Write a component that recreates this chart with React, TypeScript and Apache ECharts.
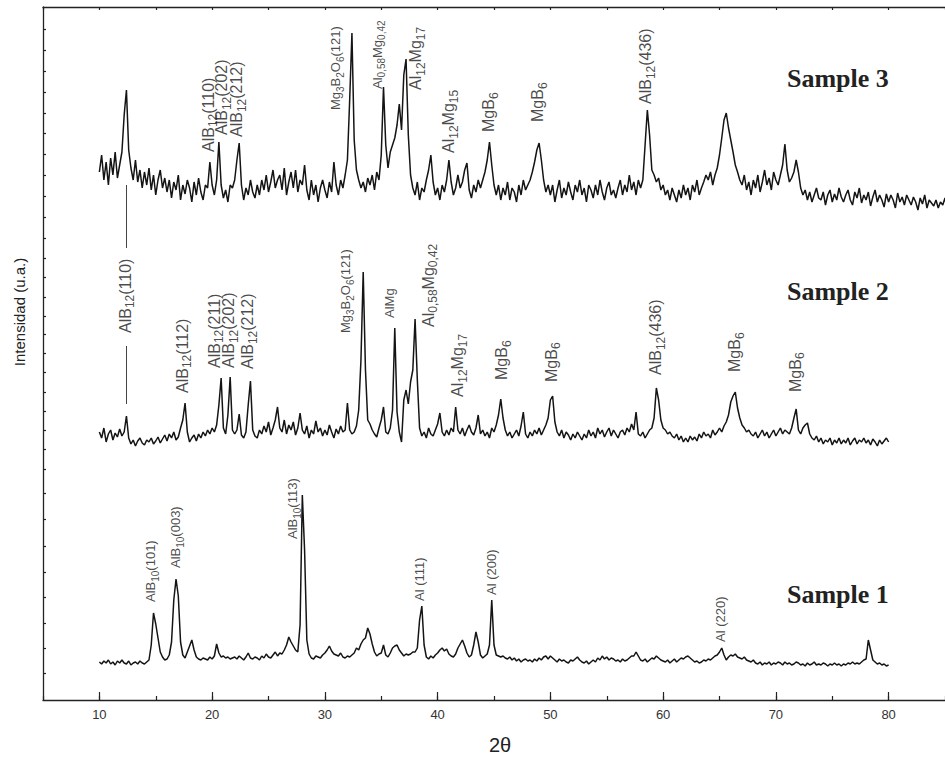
import React, { useEffect, useRef } from "react";
import * as echarts from "echarts";

// 2θ grid of the patterns: first angle and step (degrees)
const X_START = 10;
const X_STEP = 0.2;

// Sample 1 intensities (arbitrary units), 10° → 80°
const sample1: number[] = [
  38, 36, 39, 37, 40, 36, 38, 35, 39, 37,
  40, 37, 36, 39, 35, 37, 38, 36, 39, 37,
  36, 38, 40, 55, 87, 76, 62, 48, 43, 40,
  41, 45, 58, 100, 121, 104, 58, 45, 42, 48,
  54, 60, 50, 43, 41, 40, 42, 41, 40, 43,
  41, 44, 56, 47, 43, 44, 42, 43, 41, 42,
  43, 41, 44, 42, 40, 43, 47, 42, 41, 43,
  42, 40, 44, 42, 46, 43, 42, 45, 48, 44,
  47, 46, 50, 55, 63, 58, 54, 50, 48, 75,
  205, 150, 60, 46, 42, 41, 44, 43, 42, 45,
  47, 50, 54, 49, 46, 45, 44, 47, 43, 42,
  44, 43, 45, 47, 52, 50, 56, 60, 62, 72,
  66, 56, 48, 44, 46, 47, 55, 45, 43, 47,
  52, 54, 55, 50, 47, 44, 46, 45, 46, 48,
  48, 52, 80, 94, 55, 43, 41, 44, 42, 45,
  47, 50, 52, 49, 51, 46, 44, 43, 46, 52,
  56, 60, 54, 47, 43, 45, 55, 68, 58, 45,
  42, 44, 46, 55, 100, 55, 45, 44, 43, 44,
  42, 41, 43, 40, 42, 39, 41, 38, 40, 41,
  39, 40, 38, 41, 39, 42, 40, 43, 44, 41,
  44, 42, 40, 38, 41, 39, 40, 38, 37, 40,
  39, 41, 43, 40, 38, 37, 39, 36, 38, 40,
  38, 42, 40, 44, 41, 43, 40, 42, 41, 39,
  40, 38, 41, 39, 40, 42, 44, 44, 48, 44,
  40, 39, 41, 38, 40, 42, 41, 44, 42, 40,
  39, 38, 40, 37, 39, 41, 38, 40, 42, 41,
  43, 44, 42, 40, 38, 39, 37, 38, 40, 39,
  41, 40, 42, 44, 45, 48, 52, 45, 40, 43,
  45, 44, 46, 43, 42, 41, 43, 40, 39, 38,
  40, 37, 36, 38, 35, 37, 36, 38, 35, 37,
  36, 38, 37, 35, 38, 36, 37, 35, 36, 38,
  37, 35, 36, 34, 37, 35, 36, 38, 35, 36,
  35, 37, 36, 34, 36, 35, 37, 35, 36, 34,
  36, 35, 37, 36, 38, 36, 37, 36, 38, 40,
  41, 60, 50, 40, 38, 36, 37, 35, 36, 34,
  35,
];

// Sample 2 intensities (offset upward), 10° → 80°
const sample2: number[] = [
  268, 262, 272, 258, 266, 270, 260, 267, 263, 271,
  264, 268, 284, 262, 256, 260, 254, 259, 262, 257,
  255, 260, 258, 262, 256, 259, 263, 257, 261, 265,
  259, 266, 262, 268, 260, 263, 272, 280, 297, 268,
  258, 262, 265, 259, 266, 262, 268, 264, 270, 266,
  272, 268, 275, 295, 322, 272, 266, 285, 323, 270,
  266, 270, 286, 265, 262, 268, 295, 319, 270, 264,
  262, 270, 266, 274, 268, 278, 265, 272, 280, 293,
  272, 268, 280, 266, 275, 270, 278, 265, 272, 287,
  270, 266, 274, 262, 270, 266, 279, 268, 272, 264,
  270, 265, 275, 268, 262, 271, 266, 274, 268, 270,
  297, 270, 266, 268, 274, 290, 340, 428, 330, 280,
  276, 270, 266, 263, 272, 280, 293, 268, 266, 272,
  290, 372, 288, 268, 258, 300, 310, 296, 318, 330,
  381, 320, 272, 264, 268, 262, 272, 266, 264, 270,
  276, 287, 268, 264, 270, 265, 272, 268, 293, 270,
  266, 272, 264, 270, 275, 268, 265, 272, 285, 266,
  270, 264, 268, 262, 272, 268, 275, 285, 301, 282,
  270, 264, 268, 262, 266, 270, 264, 274, 288, 266,
  262, 268, 264, 270, 266, 272, 265, 270, 275, 282,
  300, 304, 278, 268, 264, 270, 262, 268, 265, 260,
  266, 262, 268, 264, 260, 266, 262, 270, 264, 268,
  262, 272, 266, 270, 263, 268, 272, 264, 270, 266,
  262, 268, 270, 265, 272, 268, 276, 270, 288, 266,
  264, 268, 262, 266, 270, 272, 282, 312, 300, 280,
  272, 270, 266, 268, 264, 262, 266, 260, 264, 258,
  262, 258, 264, 260, 263, 259, 266, 262, 268, 264,
  266, 262, 270, 265, 268, 272, 268, 274, 278, 285,
  298, 304, 308, 292, 282, 275, 272, 268, 270, 266,
  264, 268, 262, 266, 270, 264, 268, 262, 266, 270,
  264, 268, 272, 266, 270, 268, 266, 272, 282, 291,
  270, 266, 272, 275, 277, 266, 262, 260, 264, 258,
  262, 256, 260, 258, 262, 255, 260, 257, 262, 256,
  260, 257, 262, 255, 259, 262, 256, 260, 258, 262,
  257, 260, 255, 261, 258, 254, 260, 256, 259, 262,
  258,
];

// Sample 3 intensities (offset upward), 10° → 86°
const sample3: number[] = [
  528, 545, 520, 538, 515, 542, 525, 548, 522, 535,
  548, 585, 610, 550, 532, 520, 540, 518, 530, 512,
  528, 515, 532, 510, 525, 505, 520, 530, 512, 522,
  508, 520, 502, 518, 510, 525, 500, 515, 506, 520,
  512, 498, 518, 505, 522, 508, 500, 515, 512, 538,
  515, 505, 520, 558, 515, 502, 510, 498, 515, 512,
  520, 540, 557, 515, 500, 512, 505, 520, 508, 502,
  515, 505, 520, 510, 525, 508, 518, 530, 512, 520,
  525, 510, 532, 505, 518, 528, 512, 530, 508, 520,
  515, 535, 510, 500, 520, 505, 515, 498, 512, 520,
  510, 502, 518, 508, 538, 515, 505, 520, 512, 525,
  540, 600, 667, 560, 530, 520, 512, 518, 508, 522,
  515, 525, 510, 528, 520, 545, 613, 555, 532, 548,
  555, 562, 575, 596, 570, 625, 641, 565, 525, 512,
  505, 518, 500, 512, 508, 520, 530, 545, 518, 505,
  512, 500, 515, 508, 520, 540, 518, 505, 512, 525,
  512, 518, 530, 537, 510, 502, 515, 508, 520, 512,
  520, 528, 540, 558, 535, 515, 505, 515, 500, 512,
  505, 518, 500, 512, 508, 498, 515, 505, 520, 510,
  515, 520, 528, 538, 550, 557, 540, 520, 508, 515,
  505, 515, 498, 510, 520, 502, 512, 505, 518, 508,
  500, 515, 508, 520, 505, 512, 498, 515, 510, 502,
  515, 505, 520, 508, 500, 512, 518, 505, 510, 502,
  512, 520, 505, 515, 508, 525, 510, 518, 505, 520,
  512, 520, 555, 590, 565, 530, 525, 518, 522, 510,
  515, 505, 510, 500, 512, 505, 498, 510, 502, 515,
  505, 512, 500, 515, 508, 520, 505, 512, 518, 525,
  520, 528, 515, 525, 532, 545, 562, 580, 587, 572,
  560, 548, 535, 528, 520, 515, 525, 510, 518, 505,
  520, 512, 525, 508, 518, 530, 515, 522, 510, 528,
  520, 515, 525, 535, 556, 530, 518, 522, 528, 540,
  528, 512, 505, 510, 500, 508, 498, 505, 512, 502,
  500, 508, 495, 505, 510, 498, 506, 500, 512, 503,
  498, 505, 510, 500, 495, 508, 502, 512, 497, 505,
  500, 508, 494, 503, 510, 498, 505, 500, 493, 506,
  498, 505, 500, 492, 507, 498, 503, 495, 505, 500,
  495, 503, 498, 490, 502, 496, 505, 492, 500, 497,
  494, 500, 492, 498, 495, 502, 490, 497, 493, 498,
  495,
];

const xTickLabels = [10, 20, 30, 40, 50, 60, 70, 80];
const yTickValues = [
  27, 52, 77, 103, 128, 154, 181, 207, 231, 251, 270, 289, 308, 328, 347, 366,
  384, 403, 423, 442, 462, 483, 504, 525, 546, 567, 587, 608, 629, 650, 671,
];
const sampleNames = ["Sample 3", "Sample 2", "Sample 1"];
const xAxisTitle = "2θ";
const yAxisTitle = "Intensidad (u.a.)";

// peak annotations: [2θ, intensity at the start of the text, text]
const labelsLarge: [number, number, string][] = [
  [19.8, 548, "AlB{s|12}(110)"],
  [21.0, 565, "AlB{s|12}(202)"],
  [22.3, 563, "AlB{s|12}(212)"],
  [38.2, 610, "Al{s|12}Mg{s|17}"],
  [41.1, 547, "Al{s|12}Mg{s|15}"],
  [44.65, 568, "MgB{s|6}"],
  [49.0, 578, "MgB{s|6}"],
  [58.6, 596, "AlB{s|12}(436)"],
  [12.45, 367, "AlB{s|12}(110)"],
  [17.5, 307, "AlB{s|12}(112)"],
  [20.3, 332, "AlB{s|12}(211)"],
  [21.6, 332, "AlB{s|12}(202)"],
  [23.3, 331, "AlB{s|12}(212)"],
  [39.3, 373, "Al{s|0,58}Mg{s|0,42}"],
  [41.9, 303, "Al{s|12}Mg{s|17}"],
  [45.8, 320, "MgB{s|6}"],
  [50.2, 318, "MgB{s|6}"],
  [59.5, 325, "AlB{s|12}(436)"],
  [66.5, 328, "MgB{s|6}"],
  [71.85, 308, "MgB{s|6}"],
];
const labelsSmall: [number, number, string][] = [
  [31.1, 590, "Mg{s|3}B{s|2}O{s|6}(121)"],
  [34.8, 611, "Al{s|0,58}Mg{s|0,42}"],
  [32.0, 367, "Mg{s|3}B{s|2}O{s|6}(121)"],
  [35.9, 382, "AlMg"],
  [14.7, 98, "AlB{s|10}(101)"],
  [16.9, 132, "AlB{s|10}(003)"],
  [27.3, 161, "AlB{s|10}(113)"],
  [38.5, 99, "Al (111)"],
  [44.9, 105, "Al (200)"],
  [65.2, 58, "Al (220)"],
];
// leader line of the AlB12(110) reflection
const refLineSegments: [number, number][][] = [
  [[12.4, 515], [12.4, 452]],
  [[12.4, 354], [12.4, 296]],
];

const SANS = '"Liberation Sans", Arial, Helvetica, sans-serif';
const SERIF = '"Liberation Serif", "Times New Roman", serif';
const INK = "#141414";

function toPoints(vals: number[]) {
  return vals.map((v, i) => [Number((X_START + i * X_STEP).toFixed(2)), v]);
}

function toRich(t: string) {
  return t
    .split(/(\{s\|[^}]*\})/)
    .filter((p) => p.length > 0)
    .map((p) => (p.startsWith("{s|") ? p : `{n|${p}}`))
    .join("");
}

function labelSeries(items: [number, number, string][], big: boolean, extra: any = {}) {
  const fs = big ? 16 : 13;
  const sfs = big ? 12 : 10;
  const lh = big ? 19 : 16;
  return {
    type: "scatter",
    xAxisIndex: 0,
    yAxisIndex: 0,
    silent: true,
    symbolSize: 0.01,
    itemStyle: { color: "rgba(0,0,0,0)" },
    z: 5,
    data: items.map(([x, y, t]) => ({ value: [x, y], text: t })),
    label: {
      show: true,
      position: [0, 0],
      rotate: 90,
      align: "left",
      verticalAlign: "middle",
      formatter: (p: any) => toRich(p.data.text),
      rich: {
        n: { fontSize: fs, fontFamily: SANS, color: "#1a1a1a", lineHeight: lh, verticalAlign: "top" },
        s: { fontSize: sfs, fontFamily: SANS, color: "#1a1a1a", verticalAlign: "bottom" },
      },
    },
    ...extra,
  };
}

export default function App() {
  const ref = useRef<HTMLDivElement>(null);

  useEffect(() => {
    if (!ref.current) return;
    const chart = echarts.init(ref.current, undefined, { renderer: "svg" });
    const axisLineStyle = { color: "#222", width: 1.3 };
    const lineSeries = (data: number[], name: string) => ({
      type: "line",
      name,
      xAxisIndex: 0,
      yAxisIndex: 0,
      data: toPoints(data),
      showSymbol: false,
      symbol: "none",
      lineStyle: { color: INK, width: 1.5 },
      z: 3,
    });
    chart.setOption({
      animation: false,
      backgroundColor: "#fff",
      grid: { left: 43, top: 7, width: 910, height: 693, containLabel: false },
      xAxis: [
        {
          type: "value",
          position: "bottom",
          min: 5,
          max: 85,
          interval: 5,
          axisLine: { show: true, lineStyle: axisLineStyle },
          axisTick: { show: true, inside: true, length: 4, lineStyle: { color: "#222", width: 1.2 } },
          axisLabel: { show: false },
          splitLine: { show: false },
        },
        {
          type: "value",
          position: "bottom",
          min: 5,
          max: 85,
          interval: 5,
          axisLine: { show: false },
          axisTick: {
            show: true,
            inside: true,
            length: 8,
            customValues: xTickLabels,
            lineStyle: { color: "#222", width: 1.2 },
          },
          axisLabel: {
            show: true,
            customValues: xTickLabels,
            fontSize: 13,
            fontFamily: SANS,
            color: "#333",
            margin: 8,
          },
          splitLine: { show: false },
        },
        {
          type: "value",
          position: "top",
          min: 5,
          max: 85,
          interval: 5,
          axisLine: { show: true, lineStyle: axisLineStyle },
          axisTick: { show: true, inside: true, length: 3, lineStyle: { color: "#222", width: 1.2 } },
          axisLabel: { show: false },
          splitLine: { show: false },
        },
      ],
      yAxis: {
        type: "value",
        min: 0,
        max: 693,
        axisLine: { show: true, lineStyle: axisLineStyle },
        axisTick: {
          show: true,
          inside: true,
          length: 3,
          customValues: yTickValues,
          lineStyle: { color: "#222", width: 1.2 },
        },
        axisLabel: { show: false },
        splitLine: { show: false },
      },
      series: [
        lineSeries(sample1, sampleNames[2]),
        lineSeries(sample2, sampleNames[1]),
        lineSeries(sample3, sampleNames[0]),
        labelSeries(labelsLarge, true, {
          markLine: {
            silent: true,
            symbol: ["none", "none"],
            label: { show: false },
            lineStyle: { color: "#444", width: 1, type: "solid" },
            data: refLineSegments.map(([a, b]) => [{ coord: a }, { coord: b }]),
          },
        }),
        labelSeries(labelsSmall, false),
      ],
      graphic: [
        {
          type: "text",
          x: 19,
          y: 312,
          rotation: Math.PI / 2,
          style: {
            text: yAxisTitle,
            fontSize: 15,
            fontFamily: SANS,
            fill: "#222",
            align: "center",
            verticalAlign: "middle",
            textAlign: "center",
            textVerticalAlign: "middle",
          },
        },
        {
          type: "text",
          x: 500,
          y: 745,
          style: {
            text: xAxisTitle,
            fontSize: 20,
            fontFamily: SANS,
            fill: "#222",
            align: "center",
            verticalAlign: "middle",
            textAlign: "center",
            textVerticalAlign: "middle",
          },
        },
        ...sampleNames.map((name, i) => ({
          type: "text",
          x: 787,
          y: [78, 291, 594][i],
          style: {
            text: name,
            fontSize: 26,
            fontWeight: "bold",
            fontFamily: SERIF,
            fill: "#222",
            align: "left",
            verticalAlign: "middle",
            textAlign: "left",
            textVerticalAlign: "middle",
          },
        })),
      ],
    });
    return () => chart.dispose();
  }, []);

  return (
    <div
      ref={ref}
      style={{ position: "fixed", left: 0, top: 0, width: 945, height: 757, background: "#fff" }}
    />
  );
}
